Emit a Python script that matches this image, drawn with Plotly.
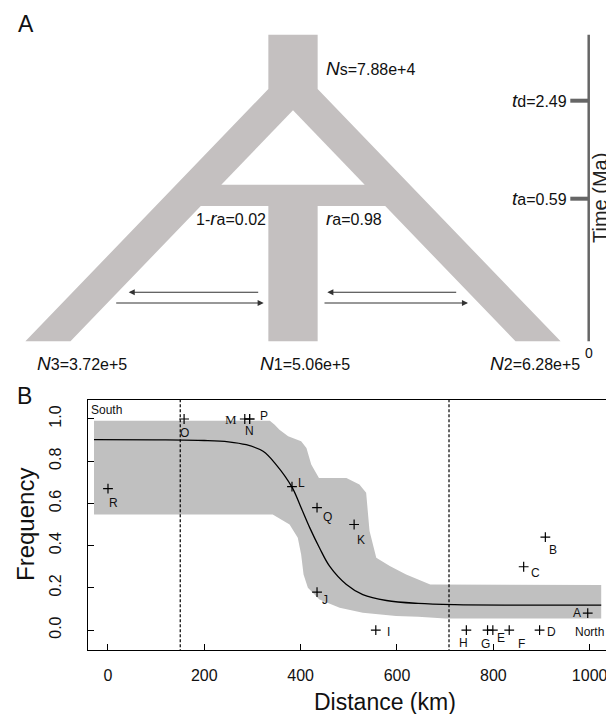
import plotly.graph_objects as go

# ---------------- Panel B data ----------------
site_names = ['A','B','C','D','E','F','G','H','I','J','K','L','M','N','O','P','Q','R']
site_dist = [996, 908, 863, 896, 799, 833, 788, 744, 556, 434, 511, 382, 284, 294, 158, 294, 434, 0]
site_freq = [0.08, 0.44, 0.30, 0.0, 0.0, 0.0, 0.0, 0.0, 0.0, 0.18, 0.50, 0.68, 1.0, 1.0, 1.0, 1.0, 0.58, 0.67]

cline_x = [-29, 100, 200, 250, 287, 322, 349, 382, 401, 419, 439, 460, 495, 529, 578, 644, 720, 850, 1024]
cline_y = [0.902, 0.901, 0.898, 0.892, 0.878, 0.847, 0.784, 0.677, 0.579, 0.484, 0.39, 0.303, 0.216, 0.168, 0.14, 0.126, 0.12, 0.118, 0.118]

upper_x = [-29, 336, 346, 356, 374, 401, 412, 422, 438, 495, 522, 536, 543, 557, 585, 619, 644, 669, 1024]
upper_y = [0.992, 0.992, 0.973, 0.949, 0.918, 0.894, 0.863, 0.784, 0.721, 0.72, 0.69, 0.65, 0.469, 0.342, 0.303, 0.263, 0.24, 0.216, 0.213]
lower_x = [-29, 342, 377, 394, 401, 406, 415, 439, 481, 529, 598, 644, 700, 1024]
lower_y = [0.547, 0.547, 0.5, 0.437, 0.358, 0.263, 0.2, 0.145, 0.106, 0.082, 0.066, 0.063, 0.055, 0.055]

zone_bounds = [150, 708]
x_ticks = [0, 200, 400, 600, 800, 1000]
y_ticks = [0.0, 0.2, 0.4, 0.6, 0.8, 1.0]

# label offsets (style): pixels right / down
lab_dx = [-11, 8, 12, 12, 8, 12, -2, -3, 13, 8, 7, 10, -14, 0, 0, 14, 10, 6]
lab_dy = [0, 13, 6, 2, 8, 14, 14, 13, 2, 8, 15, -4, 1, 12, 14, -3, 9, 14]

# ---------------- Panel A (schematic) ----------------
pop_labels = ['<i>N</i><span style="font-size:16px">3=3.72e+5</span>',
              '<i>N</i><span style="font-size:16px">1=5.06e+5</span>',
              '<i>N</i><span style="font-size:16px">2=6.28e+5</span>']
anc_label = '<i>N</i><span style="font-size:16px">s=7.88e+4</span>'
ra_labels = ['<span style="font-size:16px">1-</span><i>r</i><span style="font-size:16px">a=0.02</span>',
             '<i>r</i><span style="font-size:16px">a=0.98</span>']
time_labels = ['<i>t</i><span style="font-size:16px">d=2.49</span>',
               '<i>t</i><span style="font-size:16px">a=0.59</span>']

# geometry of the schematic (in page pixels)
C, y_bot, y_top, y_split = 285.0, 333.3, 26.7, 81.0
slope, stem_hw, inner_half = 0.963, 24.65, 222.5
bar_top, bar_bot = 176.7, 198.0
outer_half = stem_hw + slope * (y_bot - y_split)

GRAY = '#c4c0c0'
FONT = 'Liberation Sans, Arial, sans-serif'

fig = go.Figure()

def ix(y):  # inner edge half-offset at height y
    return inner_half - slope * (y_bot - y)

shape_x = [C - stem_hw, C + stem_hw, C + stem_hw, C + outer_half, C + inner_half, C + ix(bar_bot),
           C + stem_hw, C + stem_hw, C - stem_hw, C - stem_hw, C - ix(bar_bot), C - inner_half,
           C - outer_half, C - stem_hw, C - stem_hw]
shape_y = [y_top, y_top, y_split, y_bot, y_bot, bar_bot, bar_bot, y_bot, y_bot, bar_bot, bar_bot,
           y_bot, y_bot, y_split, y_top]
fig.add_trace(go.Scatter(x=shape_x, y=shape_y, fill='toself', fillcolor=GRAY, mode='none',
                         xaxis='x2', yaxis='y2', hoverinfo='skip', showlegend=False))
hole_x = [C, C - ix(bar_top), C + ix(bar_top), C]
hole_y = [y_bot - inner_half / slope, bar_top, bar_top, y_bot - inner_half / slope]
fig.add_trace(go.Scatter(x=hole_x, y=hole_y, fill='toself', fillcolor='white', mode='none',
                         xaxis='x2', yaxis='y2', hoverinfo='skip', showlegend=False))

# ---------------- Panel B traces ----------------
band_x = upper_x + lower_x[::-1]
band_y = upper_y + lower_y[::-1]
fig.add_trace(go.Scatter(x=band_x, y=band_y, fill='toself', fillcolor='#c0c0c0', mode='none',
                         hoverinfo='skip', showlegend=False))
fig.add_trace(go.Scatter(x=cline_x, y=cline_y, mode='lines', line=dict(color='black', width=1.3, shape='spline'),
                         showlegend=False))
for b in zone_bounds:
    fig.add_trace(go.Scatter(x=[b, b], y=[-0.2, 1.2], mode='lines',
                             line=dict(color='black', width=1.2, dash='3px,2px'), showlegend=False))
fig.add_trace(go.Scatter(x=site_dist, y=site_freq, mode='markers',
                         marker=dict(symbol='cross-thin', size=7, line=dict(color='black', width=1.2)),
                         showlegend=False))

ann = []
for n, xv, yv, dx, dy in zip(site_names, site_dist, site_freq, lab_dx, lab_dy):
    ann.append(dict(x=xv, y=yv, xref='x', yref='y', text=n, showarrow=False, xshift=dx, yshift=-dy,
                    font=dict(family='Liberation Serif, Times New Roman, serif' if n == 'M' else FONT,
                              size=13 if n == 'M' else 12, color='#111')))

# Panel A texts
pa = dict(xref='x2', yref='y2', showarrow=False)
ann.append(dict(**pa, x=18, y=16, text='A', font=dict(family=FONT, size=23, color='#111')))
ann.append(dict(**pa, x=16, y=388, text='B', font=dict(family=FONT, size=23, color='#111')))
for txt, xl in zip(pop_labels, [27, 250, 480]):
    ann.append(dict(**pa, x=xl, y=355, xanchor='left', yanchor='middle', text=txt,
                    font=dict(family=FONT, size=19, color='#111')))
ann.append(dict(**pa, x=316, y=60, xanchor='left', yanchor='middle', text=anc_label,
                font=dict(family=FONT, size=19, color='#111')))
ann.append(dict(**pa, x=260, y=210.7, xanchor='right', yanchor='middle', text=ra_labels[0],
                font=dict(family=FONT, size=19, color='#111')))
ann.append(dict(**pa, x=316, y=210.7, xanchor='left', yanchor='middle', text=ra_labels[1],
                font=dict(family=FONT, size=19, color='#111')))
for txt, yv in zip(time_labels, [92.7, 190.7]):
    ann.append(dict(**pa, x=561, y=yv, xanchor='right', yanchor='middle', text=txt,
                    font=dict(family=FONT, size=19, color='#111')))
ann.append(dict(**pa, x=580.7, y=345, text='0', font=dict(family=FONT, size=14, color='#111')))
ann.append(dict(**pa, x=592, y=190, text='Time (Ma)', textangle=-90, borderpad=0,
                font=dict(family=FONT, size=20, color='#222')))

# migration arrows (head, tail)
arrows = [((120.7, 284.3), (251.7, 284.3)), ((255.7, 295.0), (106.7, 295.0)),
          ((319.3, 284.3), (449.7, 284.3)), ((460.0, 295.0), (315.0, 295.0))]
for (hx, hy), (tx, ty) in arrows:
    ann.append(dict(x=hx, y=hy, ax=tx, ay=ty, xref='x2', yref='y2', axref='x2', ayref='y2',
                    text='', showarrow=True, arrowhead=2, arrowsize=1.1, arrowwidth=1.1,
                    arrowcolor='#333', standoff=0))

# Panel B texts
ann.append(dict(x=0.0, y=1.0, xref='x domain', yref='y domain', xanchor='left', yanchor='top',
                text='South', showarrow=False, xshift=1, yshift=-1, font=dict(family=FONT, size=12, color='#111')))
ann.append(dict(x=1.0, y=0.0, xref='x domain', yref='y', xanchor='right', yanchor='middle',
                text='North', showarrow=False, xshift=-1, yshift=-2, font=dict(family=FONT, size=12, color='#111')))
ann.append(dict(**pa, x=377, y=694, text='Distance (km)', borderpad=0, font=dict(family=FONT, size=23, color='#111')))
ann.append(dict(**pa, x=17, y=517, text='Frequency', textangle=-90, borderpad=0,
                font=dict(family=FONT, size=24, color='#111')))

shapes = [
    dict(type='line', xref='x2', yref='y2', x0=580.7, x1=580.7, y0=26.7, y1=333.3,
         line=dict(color='#666', width=2.5)),
    dict(type='line', xref='x2', yref='y2', x0=562.3, x1=580.7, y0=92.7, y1=92.7,
         line=dict(color='#666', width=4)),
    dict(type='line', xref='x2', yref='y2', x0=562.3, x1=580.7, y0=190.7, y1=190.7,
         line=dict(color='#666', width=4)),
]

fig.update_layout(
    width=614, height=714, margin=dict(l=0, r=0, t=0, b=0),
    paper_bgcolor='white', plot_bgcolor='rgba(0,0,0,0)',
    showlegend=False, annotations=ann, shapes=shapes,
    xaxis=dict(domain=[80 / 614, 599 / 614], range=[-41.5, 1036], tickvals=x_ticks,
               ticks='inside', ticklen=6, tickcolor='black', showline=True, linecolor='black',
               linewidth=1.2, mirror=True, showgrid=False, zeroline=False,
               tickfont=dict(family=FONT, size=16, color='#111'), ticklabelstandoff=10),
    yaxis=dict(domain=[1 - 642.3 / 714, 1 - 392 / 714], range=[-0.096, 1.09], tickvals=y_ticks,
               ticktext=['%.1f' % v for v in y_ticks], tickangle=-90,
               ticks='inside', ticklen=6, tickcolor='black', showline=True, linecolor='black',
               linewidth=1.2, mirror=True, showgrid=False, zeroline=False,
               tickfont=dict(family=FONT, size=16, color='#111'), ticklabelstandoff=20),
    xaxis2=dict(domain=[0, 1], range=[0, 614], visible=False, anchor='y2'),
    yaxis2=dict(domain=[0, 1], range=[714, 0], visible=False, anchor='x2'),
)

fig.write_html('out.html')
